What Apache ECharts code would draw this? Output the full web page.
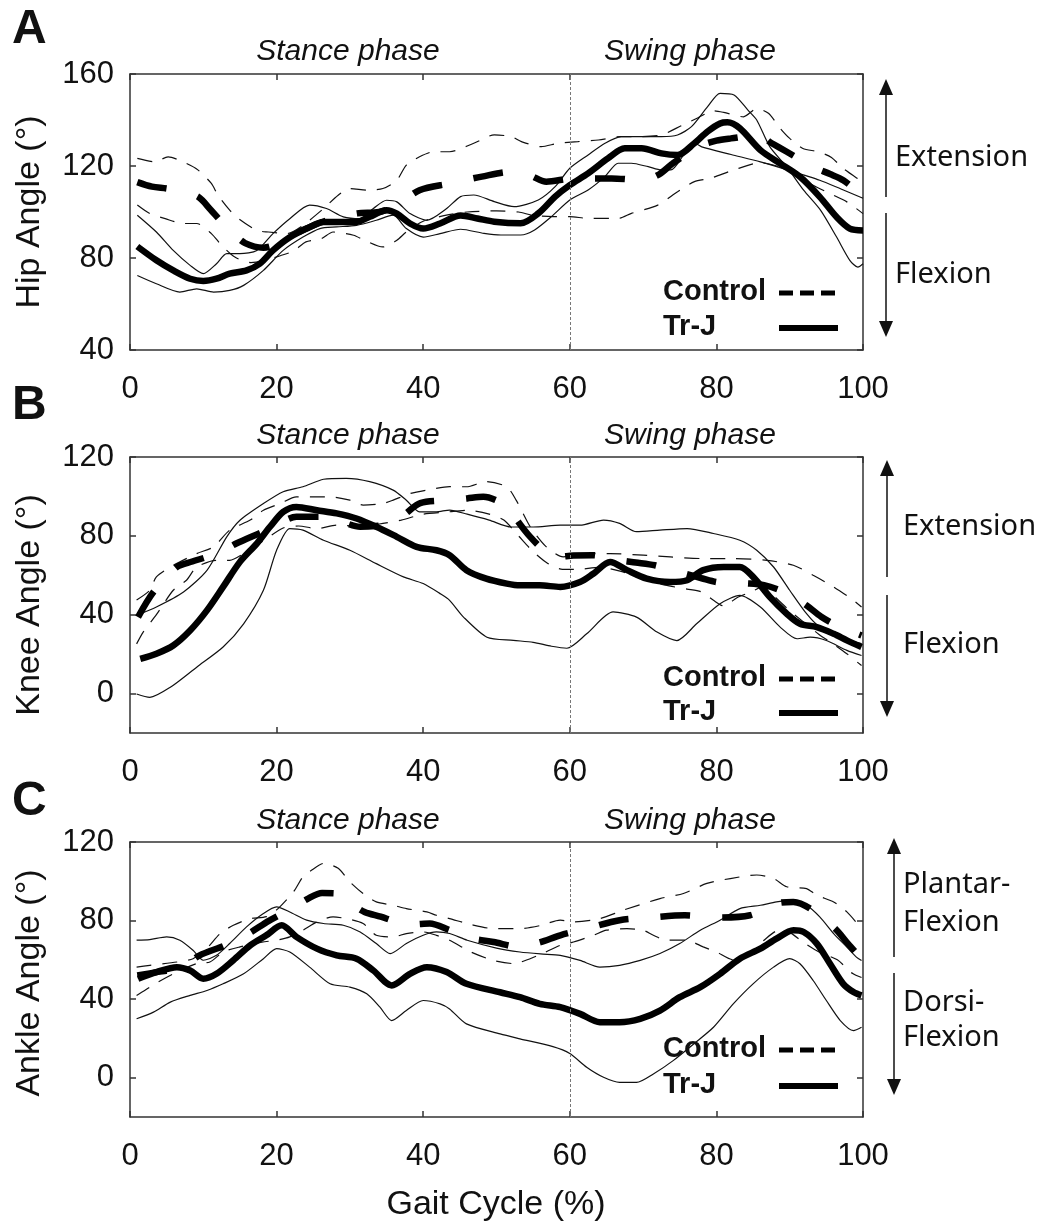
<!DOCTYPE html>
<html>
<head>
<meta charset="utf-8">
<script src="https://cdn.jsdelivr.net/npm/echarts@6/dist/echarts.min.js"></script>
<style>
  html, body { margin: 0; padding: 0; background: #fff; }
  #chart { width: 1041px; height: 1224px; }
</style>
</head>
<body>
<div id="chart"></div>
<script>
// ---- data: [gait cycle %, angle deg] ----
var xTicks = [0, 20, 40, 60, 80, 100];
var hipTicks = [40, 80, 120, 160];
var kneeTicks = [0, 40, 80, 120];
var ankleTicks = [0, 40, 80, 120];

// A: hip
var hipTrjMean = [[1,85],[3.6,79],[5.9,74.6],[8.2,71],[10,70],[11.8,71],[13.6,73.2],[15.9,74.6],[17.7,77.5],[19.5,83.3],[21.8,89],[24.1,92.8],[26.4,95.7],[28.6,95.7],[30.9,95.7],[32.7,97.9],[35,100.8],[36.4,99.3],[38.2,95],[40,92.8],[42.3,95],[45.1,98.5],[47.4,97.2],[49.7,95.8],[53.3,95.1],[55.7,99.4],[58,106.7],[60,111.7],[62.5,116.8],[65.2,123.3],[67.5,127.7],[69.8,127.7],[72.5,125.5],[74.7,124.8],[77,129.9],[78.8,135],[80.5,138.5],[81.5,139],[83.2,136.4],[86,126.9],[88.7,121.1],[91.4,115.3],[94.1,106.6],[96.4,97.8],[98.2,92.8],[100,92]];
var hipTrjUpper = [[1,98.6],[3.6,91.3],[5.9,83.3],[8.2,76.8],[10,73.2],[11.8,77.5],[13.2,81.9],[15,81.9],[17.3,83.3],[19.5,90.6],[21.8,97.1],[24.5,103],[26.8,101.5],[29.1,97.9],[31.4,97.1],[33.2,101.5],[35,105.1],[36.4,104.4],[38.2,99.3],[40.5,96.4],[43.2,101.5],[45.1,106.7],[46.9,107.4],[49.7,104.5],[52.4,102.3],[55.7,105.2],[58,111],[60,119],[62.5,124.8],[64.8,129.9],[67,132.8],[69.8,132.8],[72.5,132.8],[74.7,133.5],[76.6,137.1],[78.8,145.8],[80.5,151.6],[82.4,150.9],[84.3,144.3],[85.5,140],[87.3,128.3],[89.6,119.6],[91.9,109.5],[94.2,100.8],[96.4,89.1],[98.2,79],[99.3,76],[100,77.5]];
var hipTrjLower = [[1,72.4],[3.6,68.8],[6.8,65.2],[9.1,66.6],[11.4,65.2],[13.6,65.9],[15.5,68.1],[18.2,74.6],[20.9,83.3],[23.6,89.1],[25.9,92.8],[28.2,93.5],[30.9,94.2],[33.6,96.4],[35.9,98.6],[37.7,92.8],[40,89.1],[42.3,90.6],[45.1,92.5],[48.3,90.7],[50.6,90],[53.3,90],[55.2,92.2],[57.5,98],[60,105.2],[62.5,109.6],[64.8,115.4],[66.6,121.2],[68.4,121.2],[70.7,119.7],[72.5,118.3],[73.8,118.3],[75.6,125],[77.3,129.5],[78,128.3],[82,125],[86,121.8],[90,118],[94.1,113.8],[97,110],[100,106]];
var hipCtrlMean = [[1,113],[3,111],[5,110.2],[7,109],[9.3,106.6],[11,101],[12.3,96.4],[14,91],[15.7,86.5],[18.2,84.5],[20,86],[23.5,92],[27,96.5],[31,99.4],[34,100],[36.5,103],[39.5,109.5],[43.6,112.4],[48,115.4],[52,117.5],[54.5,116],[56.8,113.2],[60.5,114.6],[65.7,114.6],[69.8,113.9],[72,116],[74,121],[77.5,128.4],[80,131],[82,132],[85.7,133.4],[87.5,130],[89.6,126.2],[93.2,119.6],[95.5,116.5],[97.3,113.8],[100,107]];
var hipCtrlUpper = [[1,123.3],[3.4,121.8],[5.2,124],[7.7,121.1],[9.3,118.2],[11.1,112.4],[12,107.3],[13.6,100.8],[14.8,97.1],[17.3,92],[18.9,91.3],[21.4,90.6],[23.5,94],[26.4,101.5],[28.4,107.3],[30,110.2],[32.5,109.5],[34.5,110.2],[36.4,113.8],[37.7,120.4],[39.5,124],[41.4,126.2],[43.6,126.2],[46.9,129.9],[49.7,133.5],[52,132.8],[53.4,130.6],[56.1,128.4],[58.4,129.9],[61.1,130.6],[63.9,131.3],[67,132.8],[69.8,132.8],[72.5,133.5],[75.2,137.5],[77.5,141],[79.6,144],[81,143.3],[83.7,141.4],[85.5,145],[87.1,142.9],[88.7,136.4],[90,132],[91.8,127.6],[93.9,126.2],[95.7,123.7],[97.3,118.9],[99.6,113.8],[100,113]];
var hipCtrlLower = [[1,103],[2.7,99.3],[4.8,97.1],[7.3,95],[9.1,95],[11.1,90.6],[12.5,85.5],[14.3,80.4],[16.5,78],[18.5,79],[20.5,81],[22.3,83],[24,87],[26.1,88.4],[27.7,91.3],[30.5,89.9],[32,87.7],[34.5,84.8],[36.4,87.7],[37.7,91.3],[40,96],[43,98.5],[46,100],[50,100.5],[53,100],[55,98.5],[57.7,98],[60,98],[62.5,97.2],[66.6,97.2],[68.4,99.4],[72,103],[74.7,108.8],[77,113.2],[79.1,114.6],[82.3,118.2],[86,121.4],[90,118],[93,112],[95.5,108],[97.8,104.4],[100,99.3]];

// B: knee
var kneeTrjMean = [[1.4,17.6],[3.6,20.2],[5.9,24.4],[8.2,32],[10.5,42.2],[12.7,54.1],[15,66.8],[17.3,76.1],[19.1,84.6],[20.9,92.2],[22.7,94.7],[25.5,93],[28.2,91.4],[30.9,88.8],[33.6,84.6],[36.4,79.5],[39.1,74.4],[41.8,72.7],[43.6,70.2],[45.9,62.6],[48.6,58.3],[51.4,55.8],[53.2,54.9],[55.9,54.9],[58.7,54.1],[61.4,56.6],[63.2,60.8],[65.5,66.8],[67.8,62.6],[70.5,58.3],[73.7,56.6],[76,57.5],[78.2,62.6],[81,64.2],[83.2,64.2],[85,59.2],[87.3,49],[89.6,40.5],[91.4,35.4],[93.7,33.7],[96,30.3],[97.8,27],[99.8,23.6]];
var kneeTrjUpper = [[0.9,39.7],[3.6,43.9],[7.3,51.5],[10.5,62.5],[13.2,79.5],[15,87.9],[18.2,96.4],[20.9,102.4],[23.6,104.9],[26.4,108.7],[29.5,109.2],[32.7,107.5],[35.9,103.2],[37.7,98.1],[39.5,92.2],[41.8,92.2],[43.6,93.1],[46,91],[49,88],[52,84.5],[55,84.5],[58.7,85.4],[61.4,85.4],[64.6,88],[66.8,86.3],[69.1,82.1],[72.3,82.9],[76,83.7],[79.6,81.2],[83.2,77.8],[85.5,72.7],[87.8,64.2],[90,52.4],[92.3,40.5],[94.1,33.7],[96.9,28.6],[99.8,25.3]];
var kneeTrjLower = [[0.9,-0.2],[2.7,-1.9],[5.5,3.2],[9.1,13.4],[12.7,23.6],[15.5,35.4],[18.2,52.4],[20,72.7],[21.8,83.7],[23.6,82.9],[26.4,77.8],[30,72.7],[33.6,65.9],[37.3,59.2],[40,55.8],[42.3,50.7],[43.6,47.3],[45.5,38.8],[48.7,28.6],[52.3,27],[55,26],[57.5,24],[59.6,23],[62.3,30.3],[65.9,41.4],[69.1,38.8],[71.9,31.2],[74.6,26.9],[77.3,35.4],[80.5,45.6],[83.2,49.8],[86,43.9],[88.7,33.7],[91,27.8],[92.8,28.6],[95,26.9],[97.8,21.9],[99.8,19.3]];
var kneeCtrlMean = [[1.1,38.8],[3.2,51.5],[6.4,64.2],[8.5,67],[10.5,69.3],[12.5,72],[14.5,76.1],[18.6,82.9],[20.7,87],[22.7,89.7],[26.8,89.7],[29,87],[31.4,84.6],[33.5,85],[35.5,86.3],[37.5,91],[39.6,96.6],[43.7,98.1],[46,99],[48.2,99.8],[50,98],[51.8,93.9],[53,87],[54.6,79.5],[56.4,73],[58.2,69.3],[60.5,70],[63,70.2],[66.8,67.6],[69,66.5],[71.6,65.1],[73.5,63],[75.7,60.8],[78,58.5],[80,56.6],[82,56],[84.4,55.8],[86.5,55],[88.7,52.4],[90.5,49],[92.3,44.7],[94.3,39],[96.4,34.6],[99.8,29.5]];
var kneeCtrlUpper = [[0.9,47.5],[2.7,52.4],[3.6,59.2],[5.9,65],[9.1,71],[11.4,74.4],[13.6,82.9],[16.4,88],[18.2,93],[20.5,96.4],[22.7,99.8],[25.5,99.8],[27.3,99.8],[30,98.1],[31.8,95.6],[34.5,96.4],[35.9,98.1],[38.2,101.5],[40.9,103.5],[43.6,105],[45.9,104.9],[48.6,107.5],[51.4,104.9],[52.7,98],[54.6,84.6],[56.8,74.4],[59.1,69.3],[61.4,71],[65.5,71],[70,70.2],[73.7,69.3],[77.8,68.5],[82.3,68.5],[86.9,67.6],[90.5,65.1],[93.2,60],[96,54.1],[98.7,47.3],[99.8,43.9]];
var kneeCtrlLower = [[0.9,25.2],[1.8,31.2],[3.6,40],[5.9,52.4],[7.7,57.5],[9.1,64.2],[11.8,67.6],[13.6,67.6],[15.5,71],[18,77],[20.9,84],[23,85],[25.5,83.7],[28.2,85.4],[31,85],[34,86],[37,88],[40,91],[43,92],[46,93],[49,91],[51,88],[53,80],[55,72],[57,66],[59,63],[61,63],[64,64],[67,62],[70,58],[73,55],[76,53],[78,51.5],[79.6,47.3],[81,44.4],[82.8,48.6],[85,52],[86.4,54.5],[88,49],[90,42],[92,36],[94,30],[96,25],[97.8,20.2],[99.8,14.2]];

// C: ankle
var ankleTrjMean = [[1.1,50.4],[3.6,53.8],[6.4,56.3],[8.2,54.6],[10,50.4],[11.8,52.9],[14.1,59.8],[16.4,67.4],[18.6,72.5],[20.7,77.6],[22.7,71.7],[25.5,65.7],[28.2,62.3],[30.9,60.6],[33.2,54.6],[35.7,47],[38.2,52.9],[40.5,56.3],[43.2,53.8],[45.9,47.8],[50.5,43.5],[53.2,41],[55.9,37.6],[58.7,35.9],[61.4,32.5],[64.1,28.3],[66.8,28.3],[69.6,30],[72.3,34.2],[75,41],[77.8,46.1],[80.5,52.9],[83.2,60.6],[86,65.7],[88.2,70.8],[90.5,75.1],[91.9,74.2],[93.7,68.3],[95.5,58],[97.3,47.8],[98.7,43.6],[99.8,41.9]];
var ankleTrjUpper = [[0.9,70],[2.7,70.3],[5,71.7],[6.8,70],[8.6,64.9],[10,59.8],[11.8,62.3],[13.6,68.3],[15.9,76.8],[18.2,83.6],[20,87],[21.8,84.4],[24.1,80.2],[26.4,78.5],[29.1,77.6],[31.4,74.2],[33.6,68.3],[35.5,63.2],[37.7,68.3],[40,72.5],[41.8,74.2],[43.6,73.4],[46,70],[50,66],[53.2,64],[56,63],[58.7,62.3],[61.4,59.7],[64.1,56.3],[66.8,57.2],[69.6,59.7],[72.3,63.2],[75,68.3],[77.8,75.1],[80.5,80.2],[83.2,86.1],[86,87.8],[88.2,89.5],[90.5,90.4],[92.3,87.8],[94.1,81.9],[96,73.4],[97.8,66.5],[99.1,61.4],[99.8,59.7]];
var ankleTrjLower = [[0.9,30],[3.2,33.4],[5.5,38.5],[8.2,41.9],[10.5,44.4],[12.7,47.8],[15.5,52.9],[18.2,60.6],[20,65.7],[21.8,64],[24.5,56.3],[27.3,47.8],[30,46.1],[32.3,42.7],[34.1,35.9],[35.7,29.1],[37.7,34.2],[40,39.3],[42.3,37.6],[43.6,35],[45.9,27.4],[50.5,22.3],[53.2,19.8],[57.7,15.8],[60,12.3],[62.3,5.3],[64.6,0.2],[66.8,-2.4],[69.1,-2.4],[71.4,1.9],[74.1,8.7],[76.9,17.2],[79.6,25.7],[82.3,37.6],[85,47.8],[87.8,56.3],[90,60.6],[91.4,58],[93.2,49.5],[95,39.3],[96.9,29.1],[98.7,24],[99.8,25.7]];
var ankleCtrlMean = [[1,52],[4,54],[7,56],[9.5,62.3],[13,67.4],[16,73],[19,80],[22,86],[24.3,91.2],[26.2,94],[28.2,93.8],[30,89],[32,84.4],[34.2,82],[36.4,79.3],[38.5,78],[40.9,78.5],[43.6,75.1],[46.5,71],[49.6,69.1],[53.2,66.5],[56,69],[58.7,72.5],[62.3,75.9],[66.8,80.2],[70.9,81.5],[75.7,82.7],[79.8,81.5],[84.6,82.7],[88.2,88.7],[90.5,89.5],[92.8,86.1],[96.2,75.9],[98,68],[99.4,62.3]];
var ankleCtrlUpper = [[0.9,56.3],[2.7,57.2],[6.4,58.9],[8.6,60.6],[10.5,66],[12.3,73.4],[14.1,77.6],[16.4,81],[18.6,82],[20.2,86.1],[22.3,94.6],[23.6,102.3],[24.8,105.7],[26.4,109.1],[28.4,106.6],[30,99.7],[31.8,93.8],[33.6,89.5],[35.9,87.8],[37.7,86.1],[40.5,84.4],[41.8,82.7],[43.6,81],[46.5,78],[49.6,75.9],[53.2,75.9],[56,77.5],[58.7,80.2],[60.5,79.3],[64.1,81],[67.3,85.3],[72.3,91.2],[75.5,93.8],[78.7,98.9],[81.9,101.4],[85.5,103.2],[87.8,101.4],[89.6,97.2],[92.3,96.3],[93.7,92.9],[96,89.5],[97.8,84.4],[99.6,76.8]];
var ankleCtrlLower = [[0.9,41.9],[2,44.4],[3.4,47.8],[6,53],[9.1,58.1],[10.9,58.9],[12.7,64],[15,66.6],[18,69],[20,70],[21.8,71.7],[23.6,75.1],[25.5,79.3],[27.7,81.9],[29.5,81],[31.8,78.5],[33.6,72.5],[35.9,71.7],[37.7,73.4],[40,74.2],[41.8,72.5],[43.6,70],[46.5,64],[49.6,59.7],[52.3,58.1],[55.5,62],[58.7,67.4],[60.5,69.1],[63.2,72.5],[65,75.1],[67.8,75.9],[70,75.1],[71.4,72.5],[73.2,70],[75.9,70],[78.2,66.6],[80,64],[82.3,60],[84.5,63],[86.5,70],[88.5,75],[90,74],[91.8,69],[94,64],[96.5,60],[98.6,53],[99.8,51]];

// ---- layout ----
var FONT = '"Liberation Sans", Arial, sans-serif';
var SIDEFONT = '"Noto Sans", "Open Sans", sans-serif';
var panels = [
  { top: 74,  height: 276, min: 40,  max: 160, ticks: hipTicks },
  { top: 457, height: 276, min: -20, max: 120, ticks: kneeTicks },
  { top: 842, height: 275, min: -20, max: 120, ticks: ankleTicks }
];
var panelData = [
  [hipCtrlUpper, hipCtrlLower, hipTrjUpper, hipTrjLower, hipCtrlMean, hipTrjMean],
  [kneeCtrlUpper, kneeCtrlLower, kneeTrjUpper, kneeTrjLower, kneeCtrlMean, kneeTrjMean],
  [ankleCtrlUpper, ankleCtrlLower, ankleTrjUpper, ankleTrjLower, ankleCtrlMean, ankleTrjMean]
];

var grid = [], xAxis = [], yAxis = [], series = [];
var axisLineStyle = { color: '#333', width: 1.5 };

panels.forEach(function (p, i) {
  grid.push({ left: 130, width: 733, top: p.top, height: p.height, show: false });
  // bottom + top x axes
  xAxis.push({
    gridIndex: i, type: 'value', min: 0, max: 100, interval: 20,
    axisLine: { show: true, onZero: false, lineStyle: axisLineStyle },
    axisTick: { show: true, inside: true, length: 6, lineStyle: axisLineStyle },
    axisLabel: { fontSize: 31, color: '#111', fontFamily: FONT, margin: 24 },
    splitLine: { show: false }
  });
  xAxis.push({
    gridIndex: i, type: 'value', position: 'top', min: 0, max: 100, interval: 20,
    axisLine: { show: true, onZero: false, lineStyle: axisLineStyle },
    axisTick: { show: true, inside: true, length: 6, lineStyle: axisLineStyle },
    axisLabel: { show: false }, splitLine: { show: false }
  });
  // left + right y axes
  yAxis.push({
    gridIndex: i, type: 'value', min: p.min, max: p.max, interval: 20,
    axisLine: { show: true, onZero: false, lineStyle: axisLineStyle },
    axisTick: { show: true, inside: true, length: 6, lineStyle: axisLineStyle, customValues: p.ticks },
    axisLabel: { fontSize: 31, color: '#111', fontFamily: FONT, margin: 16, customValues: p.ticks },
    splitLine: { show: false }
  });
  yAxis.push({
    gridIndex: i, type: 'value', position: 'right', min: p.min, max: p.max, interval: 20,
    axisLine: { show: true, onZero: false, lineStyle: axisLineStyle },
    axisTick: { show: true, inside: true, length: 6, lineStyle: axisLineStyle, customValues: p.ticks },
    axisLabel: { show: false, customValues: p.ticks }, splitLine: { show: false }
  });

  var d = panelData[i];
  var sd = function (data, dashed) {
    return {
      type: 'line', xAxisIndex: i * 2, yAxisIndex: i * 2, data: data,
      symbol: 'none', smooth: 0.25, silent: true, z: 2,
      lineStyle: { color: '#111', width: 1.2, type: dashed ? [15, 11] : 'solid' }
    };
  };
  series.push(sd(d[0], true), sd(d[1], true), sd(d[2], false), sd(d[3], false));
  series.push({
    type: 'line', xAxisIndex: i * 2, yAxisIndex: i * 2, data: d[4],
    symbol: 'none', smooth: 0.3, silent: true, z: 3,
    lineStyle: { color: '#000', width: 6.5, type: [30, 32], cap: 'butt' }
  });
  series.push({
    type: 'line', xAxisIndex: i * 2, yAxisIndex: i * 2, data: d[5],
    symbol: 'none', smooth: 0.3, silent: true, z: 4,
    lineStyle: { color: '#000', width: 6.5 },
    markLine: {
      silent: true, symbol: 'none', label: { show: false }, animation: false,
      lineStyle: { color: '#777', width: 1, type: [3, 2] },
      data: [{ xAxis: 60 }]
    }
  });
});

// ---- annotations ----
var graphic = [];
function txt(x, y, s, size, opts) {
  opts = opts || {};
  graphic.push({
    type: 'text', x: x, y: y, rotation: opts.rot || 0, silent: true,
    style: {
      text: s, fontSize: size, fontFamily: opts.family || FONT,
      fontWeight: opts.bold ? 'bold' : 'normal', fontStyle: opts.italic ? 'italic' : 'normal',
      fill: '#111', align: opts.align || 'left', verticalAlign: 'middle'
    }
  });
}
function arrow(x, tipTop, endTop, startBot, tipBot) {
  graphic.push({ type: 'line', silent: true, shape: { x1: x, y1: tipTop + 14, x2: x, y2: endTop }, style: { stroke: '#111', lineWidth: 1.5 } });
  graphic.push({ type: 'line', silent: true, shape: { x1: x, y1: startBot, x2: x, y2: tipBot - 14 }, style: { stroke: '#111', lineWidth: 1.5 } });
  graphic.push({ type: 'polygon', silent: true, shape: { points: [[x - 7, tipTop + 16], [x + 7, tipTop + 16], [x, tipTop]] }, style: { fill: '#111' } });
  graphic.push({ type: 'polygon', silent: true, shape: { points: [[x - 7, tipBot - 16], [x + 7, tipBot - 16], [x, tipBot]] }, style: { fill: '#111' } });
}
function legend(yCtrl, yTrj) {
  txt(663, yCtrl, 'Control', 29, { bold: true });
  txt(663, yTrj, 'Tr-J', 29, { bold: true });
  graphic.push({ type: 'line', silent: true, shape: { x1: 779, y1: yCtrl + 1, x2: 835, y2: yCtrl + 1 }, style: { stroke: '#000', lineWidth: 5, lineDash: [14, 7] } });
  graphic.push({ type: 'line', silent: true, shape: { x1: 779, y1: yTrj + 1, x2: 838, y2: yTrj + 1 }, style: { stroke: '#000', lineWidth: 6 } });
}

// panel letters
txt(12, 30, 'A', 48, { bold: true });
txt(12, 406, 'B', 48, { bold: true });
txt(12, 802, 'C', 48, { bold: true });

// phase labels
[52, 436, 821].forEach(function (y) {
  txt(348, y, 'Stance phase', 30, { italic: true, align: 'center' });
  txt(690, y, 'Swing phase', 30, { italic: true, align: 'center' });
});

// axis names
txt(30, 212, 'Hip Angle (°)', 34, { rot: Math.PI / 2, align: 'center' });
txt(30, 605, 'Knee Angle (°)', 34, { rot: Math.PI / 2, align: 'center' });
txt(30, 983, 'Ankle Angle (°)', 34, { rot: Math.PI / 2, align: 'center' });
txt(496, 1205, 'Gait Cycle (%)', 34, { align: 'center' });

// right-hand direction arrows and labels
arrow(886, 79, 197, 213, 337);
txt(895, 158, 'Extension', 29, { family: SIDEFONT });
txt(895, 275, 'Flexion', 29, { family: SIDEFONT });

arrow(887, 460, 577, 595, 717);
txt(903, 527, 'Extension', 29, { family: SIDEFONT });
txt(903, 645, 'Flexion', 29, { family: SIDEFONT });

arrow(894, 838, 957, 973, 1095);
txt(903, 885, 'Plantar-', 29, { family: SIDEFONT });
txt(903, 923, 'Flexion', 29, { family: SIDEFONT });
txt(903, 1003, 'Dorsi-', 29, { family: SIDEFONT });
txt(903, 1038, 'Flexion', 29, { family: SIDEFONT });

// legends
legend(292, 327);
legend(678, 712);
legend(1049, 1085);

var chart = echarts.init(document.getElementById('chart'));
chart.setOption({
  animation: false,
  backgroundColor: '#fff',
  grid: grid,
  xAxis: xAxis,
  yAxis: yAxis,
  series: series,
  graphic: graphic
});
</script>
</body>
</html>
